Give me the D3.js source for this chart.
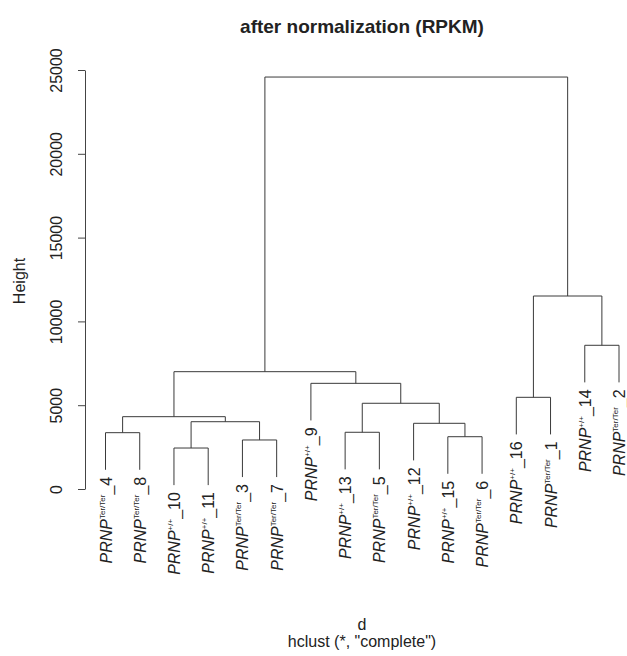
<!DOCTYPE html>
<html>
<head>
<meta charset="utf-8">
<script src="https://cdn.jsdelivr.net/npm/d3@7"></script>
<style>
  body { margin: 0; background: #fff; }
  text { font-family: "Liberation Sans", Arial, sans-serif; fill: #222; }
</style>
</head>
<body>
<script>
const width = 627;
const height = 656;

// leaf order along the x axis (sample number) and genotype of each leaf
const leafOrder = [4, 8, 10, 11, 3, 7, 9, 13, 5, 12, 15, 6, 16, 1, 14, 2];
const genotype = {
  1: 'Ter/Ter', 2: 'Ter/Ter', 3: 'Ter/Ter', 4: 'Ter/Ter', 5: 'Ter/Ter', 6: 'Ter/Ter',
  7: 'Ter/Ter', 8: 'Ter/Ter', 9: '+/+', 10: '+/+', 11: '+/+', 12: '+/+',
  13: '+/+', 14: '+/+', 15: '+/+', 16: '+/+'
};

// hclust-style merge table: negative = sample, positive = earlier merge step
const merges = [
  [-10, -11], [-3, -7], [-15, -6], [-4, -8], [-13, -5],
  [-12, 3], [1, 2], [4, 7], [5, 6], [-16, -1],
  [-9, 9], [8, 11], [-14, -2], [10, 13], [12, 14]
];
const mergeHeights = [
  2445, 2925, 3120, 3360, 3385,
  3920, 4015, 4315, 5115, 5470,
  6305, 7000, 8575, 11515, 24580
];
const yTicks = [0, 5000, 10000, 15000, 20000, 25000];

const x = d3.scalePoint()
  .domain(leafOrder)
  .range([105.5, 619]);

const y = d3.scaleLinear()
  .domain([0, 25000])
  .range([489, 70]);

// leaves hang 10% of the height range below their merge
const hang = 0.1 * (d3.max(mergeHeights) - d3.min(mergeHeights));

const svg = d3.select('body').append('svg')
  .attr('width', width)
  .attr('height', height);

// position of each merge step, computed from its children
const nodeX = [];
function childX(c) { return c < 0 ? x(-c) : nodeX[c - 1]; }

const lines = svg.append('g')
  .attr('fill', 'none')
  .attr('stroke', '#3a3a3a')
  .attr('stroke-width', 1);

const leafBottom = {};

merges.forEach((m, i) => {
  const h = mergeHeights[i];
  const pts = m.map(c => {
    const cx = childX(c);
    const ch = c < 0 ? h - hang : mergeHeights[c - 1];
    if (c < 0) leafBottom[-c] = h - hang;
    return [cx, ch];
  });
  nodeX[i] = (pts[0][0] + pts[1][0]) / 2;
  const path = d3.path();
  path.moveTo(pts[0][0], y(pts[0][1]));
  path.lineTo(pts[0][0], y(h));
  path.lineTo(pts[1][0], y(h));
  path.lineTo(pts[1][0], y(pts[1][1]));
  lines.append('path').attr('d', path.toString());
});

// y axis
const axis = svg.append('g')
  .attr('transform', 'translate(85,0)')
  .call(d3.axisLeft(y).tickValues(yTicks).tickSize(7).tickSizeOuter(0).tickFormat(d3.format('d')));
axis.select('.domain').attr('stroke', '#444');
axis.selectAll('.tick line').attr('stroke', '#444');
axis.selectAll('.tick text')
  .attr('transform', 'rotate(-90)')
  .attr('x', 0)
  .attr('y', -23)
  .attr('dy', 0)
  .attr('text-anchor', 'middle')
  .attr('font-size', '16px')
  .attr('font-family', '"Liberation Sans", Arial, sans-serif')
  .attr('fill', '#222');

// leaf labels
const labels = svg.append('g')
  .selectAll('text')
  .data(leafOrder)
  .join('text')
    .attr('font-size', '16px')
    .attr('text-anchor', 'end')
    .attr('transform', d => `translate(${x(d) + 6},${y(leafBottom[d]) + 7}) rotate(-90)`);
labels.append('tspan').attr('font-style', 'italic').text('PRNP');
labels.append('tspan').attr('font-size', '8px').attr('dy', -7).text(d => genotype[d]);
labels.append('tspan').attr('dy', 7).text(d => '_' + d);

// titles
svg.append('text')
  .attr('x', 362)
  .attr('y', 33)
  .attr('text-anchor', 'middle')
  .attr('font-size', '19px')
  .attr('font-weight', 'bold')
  .text('after normalization (RPKM)');

svg.append('text')
  .attr('transform', 'translate(25,281) rotate(-90)')
  .attr('text-anchor', 'middle')
  .attr('font-size', '16px')
  .text('Height');

svg.append('text')
  .attr('x', 362)
  .attr('y', 630)
  .attr('text-anchor', 'middle')
  .attr('font-size', '16px')
  .text('d');

svg.append('text')
  .attr('x', 362)
  .attr('y', 647)
  .attr('text-anchor', 'middle')
  .attr('font-size', '16px')
  .text('hclust (*, "complete")');
</script>
</body>
</html>
